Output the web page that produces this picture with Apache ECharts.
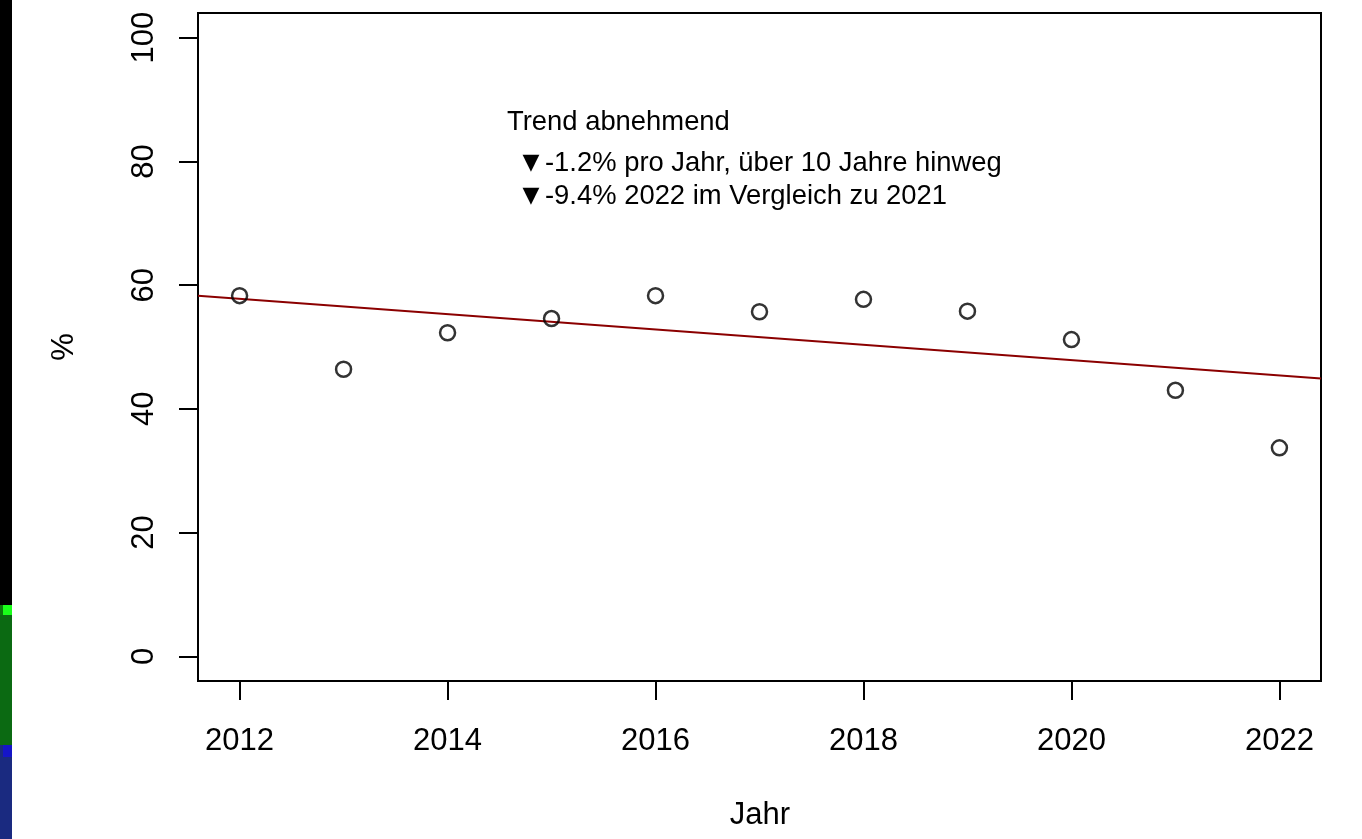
<!DOCTYPE html>
<html>
<head>
<meta charset="utf-8">
<script src="https://cdn.jsdelivr.net/npm/echarts@6/dist/echarts.min.js"></script>
<style>
  html, body { margin: 0; padding: 0; background: #ffffff; }
  #chart { width: 1362px; height: 839px; }
</style>
</head>
<body>
<div id="chart"></div>
<script>
// Yearly share (%) with a linear trend
const years = [2012, 2013, 2014, 2015, 2016, 2017, 2018, 2019, 2020, 2021, 2022];
const values = [58.3, 46.4, 52.3, 54.6, 58.3, 55.7, 57.7, 55.8, 51.2, 43.0, 33.7];

// Trend line endpoints at the edges of the x range
const trendYears = [2011.6, 2022.4];
const trendValues = [58.3, 44.9];

const xTicks = [2012, 2014, 2016, 2018, 2020, 2022];
const yTicks = [0, 20, 40, 60, 80, 100];

const annotationTitle = 'Trend abnehmend';
const annotationItems = [
  '-1.2% pro Jahr, \u00FCber 10 Jahre hinweg',
  '-9.4% 2022 im Vergleich zu 2021'
];

const FONT = '"Liberation Sans", Arial, Helvetica, sans-serif';

const chart = echarts.init(document.getElementById('chart'), null, { renderer: 'canvas' });

const annotationGraphics = [
  {
    type: 'text', x: 507, y: 122,
    style: { text: annotationTitle, font: '27.4px ' + FONT, fill: '#000000', align: 'left', verticalAlign: 'middle' }
  }
];
annotationItems.forEach((t, i) => {
  const y = 163 + i * 33;
  annotationGraphics.push({
    type: 'text', x: 531, y: y,
    style: { text: '\u25BC', font: '22px "DejaVu Sans", ' + FONT, fill: '#000000', align: 'center', verticalAlign: 'middle' }
  });
  annotationGraphics.push({
    type: 'text', x: 545, y: y,
    style: { text: t, font: '27.4px ' + FONT, fill: '#000000', align: 'left', verticalAlign: 'middle' }
  });
});

chart.setOption({
  animation: false,
  backgroundColor: '#ffffff',
  grid: {
    left: 198, right: 41, top: 13, bottom: 158,
    show: true, borderColor: '#000000', borderWidth: 2, backgroundColor: 'transparent'
  },
  xAxis: {
    type: 'value',
    min: 2011.6, max: 2022.4,
    axisLine: { show: false, onZero: false },
    splitLine: { show: false },
    axisTick: {
      show: true, inside: false, length: 19,
      customValues: xTicks,
      lineStyle: { color: '#000000', width: 2 }
    },
    axisLabel: {
      customValues: xTicks,
      margin: 45,
      color: '#000000', fontFamily: FONT, fontSize: 31,
      formatter: v => String(v)
    }
  },
  yAxis: {
    type: 'value',
    min: -4, max: 104,
    axisLine: { show: false, onZero: false },
    splitLine: { show: false },
    axisTick: {
      show: true, inside: false, length: 19,
      customValues: yTicks,
      lineStyle: { color: '#000000', width: 2 }
    },
    axisLabel: {
      customValues: yTicks,
      rotate: 90,
      margin: 38,
      color: '#000000', fontFamily: FONT, fontSize: 31,
      formatter: v => String(v)
    }
  },
  series: [
    {
      type: 'line',
      data: trendYears.map((y, i) => [y, trendValues[i]]),
      showSymbol: false,
      lineStyle: { color: '#8B0000', width: 2 },
      z: 2
    },
    {
      type: 'scatter',
      data: years.map((y, i) => [y, values[i]]),
      symbol: 'circle',
      symbolSize: 15,
      itemStyle: { color: 'rgba(255,255,255,0)', borderColor: '#000000', borderWidth: 2.5 },
      z: 3
    }
  ],
  graphic: [
    // dark strip along the left edge
    { type: 'rect', shape: { x: 0, y: 0, width: 12, height: 605 }, style: { fill: '#000000' }, silent: true },
    { type: 'rect', shape: { x: 0, y: 605, width: 12, height: 10 }, style: { fill: '#0c7a0c' }, silent: true },
    { type: 'rect', shape: { x: 3, y: 605, width: 9, height: 10 }, style: { fill: '#1aff1a' }, silent: true },
    { type: 'rect', shape: { x: 0, y: 615, width: 12, height: 130 }, style: { fill: '#0b6a12' }, silent: true },
    { type: 'rect', shape: { x: 0, y: 745, width: 12, height: 94 }, style: { fill: '#1a2a80' }, silent: true },
    { type: 'rect', shape: { x: 3, y: 745, width: 9, height: 12 }, style: { fill: '#1515c8' }, silent: true },
    // axis titles
    {
      type: 'text', x: 760, y: 815,
      style: { text: 'Jahr', font: '31px ' + FONT, fill: '#000000', align: 'center', verticalAlign: 'middle' }
    },
    {
      type: 'text', x: 64, y: 347, rotation: Math.PI / 2,
      style: { text: '%', font: '31px ' + FONT, fill: '#000000', align: 'center', verticalAlign: 'middle' }
    }
  ].concat(annotationGraphics)
});
</script>
</body>
</html>
